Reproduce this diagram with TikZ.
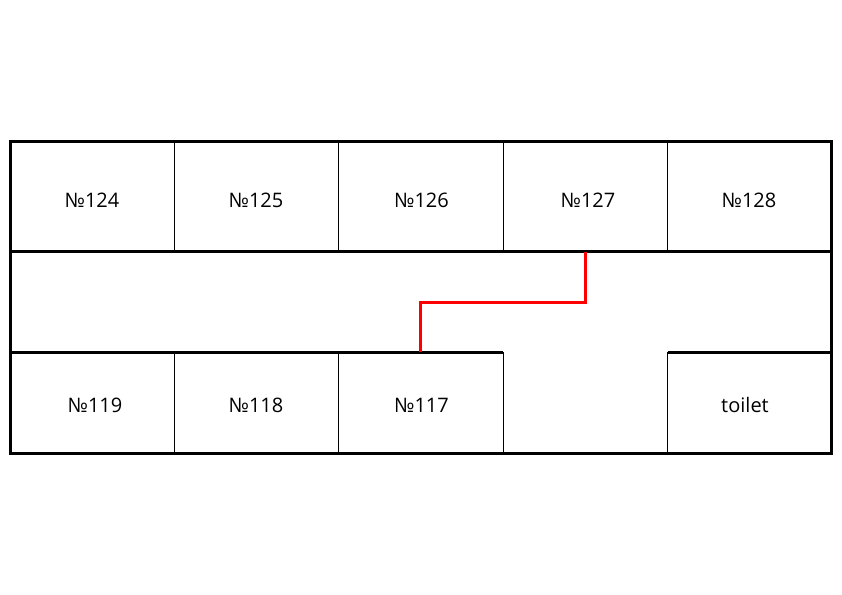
\documentclass[tikz,border=0pt]{standalone}
\usepackage{fontspec}
\setmainfont{Open Sans}
\tikzset{
  px/.style={x=0.75pt,y=-0.75pt},
  wall/.style={draw=black,line width=2.25pt},
  thin wall/.style={draw=black,line width=0.7pt},
  route/.style={draw=red,line width=2.25pt},
  room/.style={font=\fontsize{15pt}{17pt}\selectfont,text=black,inner sep=0pt,anchor=base}
}
\begin{document}
\begin{tikzpicture}[px]
\useasboundingbox (0,0) rectangle (842,595);
\fill[white] (0,0) rectangle (842,595);
\coordinate (r1) at (585.5,252);
\coordinate (r2) at (585.5,302);
\coordinate (r3) at (420.8,302);
\coordinate (r4) at (420.8,352);
\draw[wall] (10,141.8) rectangle (831.8,453.3);
\draw[wall] (10,252)--(831.8,252);
\draw[wall] (10,352.3)--(503,352.3) (667.5,352.3)--(831.8,352.3);
\draw[thin wall] (174,142)--(174,253) (338.3,142)--(338.3,253) (503,142)--(503,253) (667.5,142)--(667.5,253);
\draw[thin wall] (174,352)--(174,453) (338.3,352)--(338.3,453) (503,352)--(503,453) (667.5,352)--(667.5,453);
\draw[route] (r1)--(r2)--(r3)--(r4);
\node[room] (a) at (92,207.2) {№124};
\node[room] (b) at (256,207.2) {№125};
\node[room] (c) at (421.5,207.2) {№126};
\node[room] (d) at (588,207.2) {№127};
\node[room] (e) at (749,207.2) {№128};
\node[room] (f) at (95,412.7) {№119};
\node[room] (g) at (256,412.7) {№118};
\node[room] (h) at (421.5,412.7) {№117};
\node[room] (i) at (745,412.7) {toilet};
\end{tikzpicture}
\end{document}
